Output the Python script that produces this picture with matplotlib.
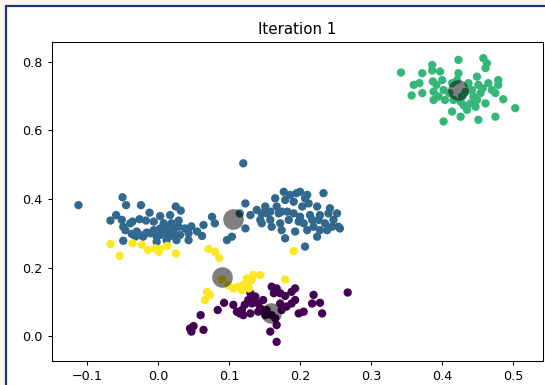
import numpy as np
import matplotlib
matplotlib.use("Agg")
import matplotlib.pyplot as plt
from matplotlib.patches import Rectangle

# cluster points (x, y)
purple_pts = [(0.045, 0.022), (0.050, 0.029), (0.047, 0.013), (0.064, 0.018), (0.060, 0.061),
              (0.084, 0.076), (0.093, 0.097), (0.106, 0.091), (0.111, 0.071), (0.118, 0.076),
              (0.120, 0.061), (0.127, 0.105), (0.130, 0.125), (0.132, 0.095), (0.130, 0.066),
              (0.137, 0.115), (0.141, 0.095), (0.141, 0.071), (0.144, 0.081), (0.148, 0.105),
              (0.153, 0.076), (0.151, 0.061), (0.160, 0.144), (0.167, 0.139), (0.163, 0.125),
              (0.172, 0.125), (0.160, 0.061), (0.165, 0.052), (0.167, 0.032), (0.158, 0.013),
              (0.167, -0.017), (0.172, 0.095), (0.174, 0.076), (0.181, 0.086), (0.188, 0.129),
              (0.193, 0.139), (0.188, 0.095), (0.193, 0.105), (0.198, 0.066), (0.205, 0.071),
              (0.217, 0.095), (0.219, 0.120), (0.228, 0.097), (0.231, 0.066), (0.179, 0.117),
              (0.122, 0.091), (0.267, 0.127), (0.115, 0.066)]

blue_pts = [(-0.112, 0.382), (-0.050, 0.405), (-0.045, 0.382), (-0.024, 0.382), (-0.067, 0.337),
            (-0.059, 0.353), (-0.051, 0.339), (-0.049, 0.319), (-0.039, 0.329), (-0.036, 0.334),
            (-0.026, 0.341), (-0.017, 0.337), (-0.012, 0.360), (0.003, 0.350), (0.017, 0.353),
            (0.025, 0.378), (0.032, 0.366), (0.029, 0.337), (0.019, 0.329), (0.012, 0.321),
            (0.003, 0.314), (-0.006, 0.309), (-0.016, 0.302), (-0.025, 0.295), (-0.032, 0.290),
            (-0.037, 0.298), (-0.046, 0.309), (-0.049, 0.278), (-0.002, 0.290), (0.008, 0.302),
            (0.017, 0.302), (0.024, 0.290), (0.031, 0.295), (0.038, 0.314), (0.043, 0.300),
            (0.043, 0.280), (0.055, 0.305), (0.064, 0.324), (0.076, 0.348), (0.080, 0.329),
            (-0.021, 0.290), (-0.011, 0.300), (0.003, 0.295), (0.015, 0.290), (0.022, 0.309),
            (0.029, 0.319), (0.008, 0.329), (-0.006, 0.334), (-0.030, 0.305), (0.026, 0.280),
            (0.012, 0.280), (-0.002, 0.275), (0.047, 0.320), (0.062, 0.292),
            (0.097, 0.280), (0.104, 0.290), (0.115, 0.358), (0.123, 0.387), (0.123, 0.314),
            (0.130, 0.353), (0.139, 0.368), (0.144, 0.339), (0.146, 0.329), (0.151, 0.378),
            (0.153, 0.358), (0.158, 0.339), (0.160, 0.319), (0.165, 0.402), (0.167, 0.378),
            (0.170, 0.358), (0.172, 0.329), (0.174, 0.309), (0.177, 0.421), (0.179, 0.397),
            (0.182, 0.363), (0.184, 0.339), (0.186, 0.412), (0.191, 0.392), (0.193, 0.305),
            (0.195, 0.417), (0.200, 0.421), (0.200, 0.348), (0.203, 0.378), (0.205, 0.329),
            (0.207, 0.402), (0.210, 0.412), (0.212, 0.387), (0.210, 0.309), (0.214, 0.353),
            (0.217, 0.339), (0.219, 0.319), (0.224, 0.378), (0.226, 0.339), (0.228, 0.309),
            (0.233, 0.417), (0.235, 0.329), (0.240, 0.358), (0.242, 0.373), (0.245, 0.319),
            (0.247, 0.339), (0.252, 0.358), (0.254, 0.319), (0.256, 0.314), (0.224, 0.290),
            (0.207, 0.261), (0.179, 0.285), (0.174, 0.363), (0.158, 0.363), (0.146, 0.358),
            (0.191, 0.358), (0.198, 0.334), (0.228, 0.353), (0.238, 0.309), (0.120, 0.504)]

green_pts = [(0.342, 0.769), (0.357, 0.702), (0.360, 0.733), (0.368, 0.738), (0.372, 0.767),
             (0.372, 0.709), (0.386, 0.791), (0.386, 0.775), (0.387, 0.743), (0.388, 0.713),
             (0.388, 0.689), (0.397, 0.772), (0.400, 0.747), (0.402, 0.718), (0.404, 0.689),
             (0.414, 0.655), (0.402, 0.626), (0.423, 0.806), (0.426, 0.640), (0.423, 0.767),
             (0.430, 0.674), (0.433, 0.713), (0.440, 0.679), (0.444, 0.699), (0.449, 0.757),
             (0.451, 0.733), (0.449, 0.689), (0.458, 0.811), (0.463, 0.796), (0.461, 0.782),
             (0.451, 0.631), (0.461, 0.679), (0.465, 0.738), (0.475, 0.640), (0.479, 0.747),
             (0.479, 0.733), (0.486, 0.691), (0.503, 0.665), (0.414, 0.738), (0.410, 0.709),
             (0.416, 0.689), (0.428, 0.699), (0.437, 0.738), (0.442, 0.718), (0.454, 0.709),
             (0.421, 0.747), (0.435, 0.660), (0.447, 0.669), (0.470, 0.718), (0.392, 0.733),
             (0.395, 0.699), (0.475, 0.709), (0.457, 0.723), (0.426, 0.684)]

yellow_pts = [(-0.067, 0.269), (-0.054, 0.234), (-0.036, 0.271), (-0.023, 0.266), (-0.014, 0.251),
              (-0.004, 0.256), (0.001, 0.246), (0.003, 0.254), (0.013, 0.263), (0.025, 0.241),
              (0.071, 0.254), (0.080, 0.246), (0.086, 0.228), (0.191, 0.248), (0.090, 0.165),
              (0.099, 0.149), (0.069, 0.129), (0.073, 0.120), (0.066, 0.105), (0.106, 0.139),
              (0.113, 0.144), (0.120, 0.149), (0.127, 0.154), (0.132, 0.164), (0.134, 0.178),
              (0.144, 0.178), (0.128, 0.139), (0.179, 0.165), (0.125, 0.168), (0.118, 0.134)]

centroid_x = [0.159, 0.106, 0.422, 0.090]
centroid_y = [0.068, 0.341, 0.718, 0.173]

clusters = [purple_pts, blue_pts, green_pts, yellow_pts]
pts = np.array([p for c in clusters for p in c])
labels = np.concatenate([[i] * len(c) for i, c in enumerate(clusters)])

fig = plt.figure(figsize=(5.45, 3.85), dpi=100, facecolor='#fdf6ec')
# white panel with the dark blue frame on top/left
fig.add_artist(Rectangle((6 / 545, -0.1), 1.2, 1.1 - 6 / 385, transform=fig.transFigure,
                         facecolor='white', edgecolor='#1c3a78', lw=1.6, zorder=-1))

ax = fig.add_axes([51.5 / 545, 24.3 / 385, (543 - 51.5) / 545, (360.7 - 41.7) / 385])
ax.scatter(pts[:, 0], pts[:, 1], c=labels, cmap='viridis', s=36, linewidths=0)
ax.scatter(centroid_x, centroid_y, c='black', s=220, alpha=0.5, linewidths=0)

ax.set_xlim(-0.150, 0.542)
ax.set_ylim(-0.072, 0.859)
ax.set_xticks([-0.1, 0.0, 0.1, 0.2, 0.3, 0.4, 0.5])
ax.set_yticks([0.0, 0.2, 0.4, 0.6, 0.8])
ax.tick_params(labelsize=9.2, length=3.2, pad=3.2, width=0.75)
for s in ax.spines.values():
    s.set_linewidth(0.75)
ax.set_title('Iteration 1', fontsize=10.9, pad=5.4)

fig.savefig('out.png', dpi=100, facecolor=fig.get_facecolor())
